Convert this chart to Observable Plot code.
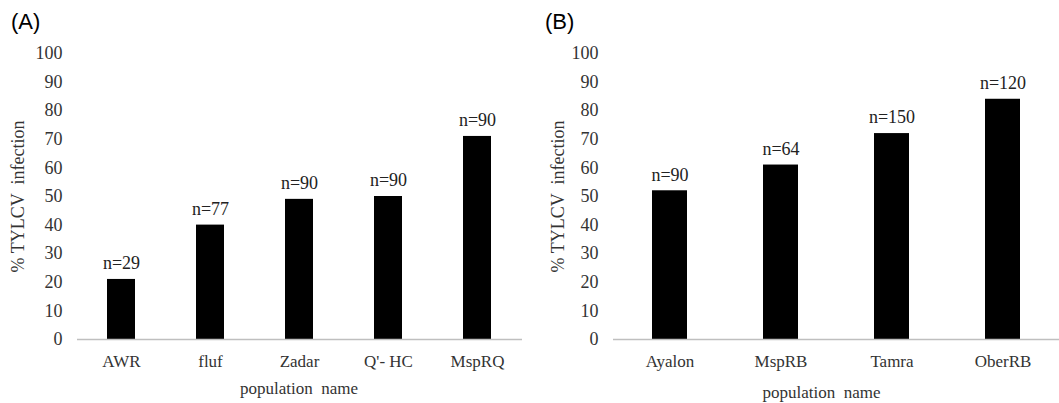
<!DOCTYPE html>
<html>
<head>
<meta charset="utf-8">
<script src="https://cdn.jsdelivr.net/npm/d3@7"></script>
<script src="https://cdn.jsdelivr.net/npm/@observablehq/plot@0.6"></script>
<style>
  html, body { margin: 0; padding: 0; background: #fff; }
  #wrap { position: relative; width: 1059px; height: 403px; overflow: hidden; }
  .panel { position: absolute; top: 0; }
  #wrap svg, #wrap svg text { font-family: "Liberation Serif", "Times New Roman", serif !important; font-variant: normal !important; }
  .tag { position: absolute; font-family: "Liberation Sans", Arial, sans-serif; font-size: 22px; color: #000; line-height: 1; }
</style>
</head>
<body>
<div id="wrap">
  <div class="tag" style="left:11px; top:11px;">(A)</div>
  <div class="tag" style="left:545px; top:11px;">(B)</div>
  <div id="pa" class="panel" style="left:0px;"></div>
  <div id="pb" class="panel" style="left:530px;"></div>
</div>
<script>
const catsA = ["AWR", "fluf", "Zadar", "Q'- HC", "MspRQ"];
const valsA = [21, 40, 49, 50, 71];
const nA = ["n=29", "n=77", "n=90", "n=90", "n=90"];

const catsB = ["Ayalon", "MspRB", "Tamra", "OberRB"];
const valsB = [52, 61, 72, 84];
const nB = ["n=90", "n=64", "n=150", "n=120"];

const yTicks = [0, 10, 20, 30, 40, 50, 60, 70, 80, 90, 100];
const yLabel = "% TYLCV  infection";
const xLabel = "population  name";
const serif = "Liberation Serif";

function panel(cats, vals, ns, opts) {
  const data = cats.map((c, i) => ({name: c, value: vals[i], n: ns[i]}));
  return Plot.plot({
    width: opts.width,
    height: 403,
    marginLeft: opts.marginLeft,
    marginRight: opts.marginRight,
    marginTop: 53,
    marginBottom: 64,
    style: {fontSize: "17px", color: "#333", background: "transparent"},
    x: {domain: cats, paddingInner: 0.685, paddingOuter: 0.3425, label: null},
    y: {domain: [0, 100], label: null},
    marks: [
      Plot.barY(data, {x: "name", y: "value", fill: "#000"}),
      Plot.ruleY([0], {stroke: "#bfbfbf", strokeWidth: 1.5}),
      Plot.ruleX([0], {frameAnchor: "left", stroke: "#bfbfbf", strokeWidth: 1.5}),
      Plot.axisY({ticks: yTicks, tickSize: 0, tickPadding: 15, fontSize: 18, fontFamily: serif, label: yLabel, labelAnchor: "center", labelOffset: opts.labelOffset, labelArrow: "none"}),
      Plot.axisX({tickSize: 0, tickPadding: 15, fontSize: 17, fontFamily: serif, label: null}),
      Plot.text([xLabel], {text: d => d, frameAnchor: "bottom", dy: opts.xLabelDy, dx: opts.xLabelDx, lineAnchor: "middle", fontSize: 17, fontFamily: serif, fill: "#333"}),
      Plot.text(data, {x: "name", y: "value", text: "n", dy: -16, lineAnchor: "middle", fontSize: 18, fontFamily: serif, fill: "#222"})
    ]
  });
}

document.getElementById("pa").appendChild(panel(catsA, valsA, nA, {width: 530, marginLeft: 77, marginRight: 8, labelOffset: 66, xLabelDy: 49, xLabelDx: -1}));
document.getElementById("pb").appendChild(panel(catsB, valsB, nB, {width: 529, marginLeft: 83, marginRight: 0, labelOffset: 62, xLabelDy: 53, xLabelDx: -15}));
</script>
</body>
</html>
